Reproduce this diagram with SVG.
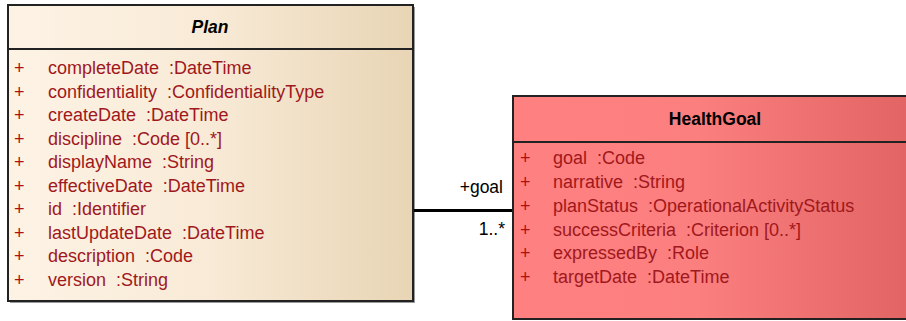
<svg xmlns="http://www.w3.org/2000/svg" width="906" height="321" viewBox="0 0 906 321">
<defs>
<linearGradient id="gPlan" x1="0" y1="0" x2="1" y2="0">
<stop offset="0" stop-color="#fdf3e5"/>
<stop offset="0.5" stop-color="#f8ead6"/>
<stop offset="1" stop-color="#e8d5b5"/>
</linearGradient>
<linearGradient id="gGoal" x1="0" y1="0" x2="1" y2="0">
<stop offset="0" stop-color="#ff8080"/>
<stop offset="0.45" stop-color="#fc7f7f"/>
<stop offset="1" stop-color="#e06262"/>
</linearGradient>
<style>
text{font-family:"Liberation Sans",Arial,sans-serif;font-size:18px;white-space:pre}
.t{font-weight:bold;fill:#000;text-anchor:middle;font-size:17.5px}
.a{fill:#a0181c}
.p{fill:#b01010}
.l{fill:#000;text-anchor:end;font-size:17.5px}
.box{stroke:#222;stroke-width:2}
</style>
</defs>
<g id="Plan">
<rect x="10" y="7" width="405" height="296" fill="#555" opacity="0.6"/>
<rect class="box" x="8" y="5" width="405" height="296" fill="url(#gPlan)"/>
<line x1="8" y1="49" x2="413" y2="49" stroke="#222" stroke-width="2"/>
<text class="t" x="210" y="33" font-style="italic">Plan</text>
<g class="p">
<text x="14" y="74">+</text><text x="14" y="97.5">+</text><text x="14" y="121">+</text><text x="14" y="144.5">+</text><text x="14" y="168">+</text><text x="14" y="191.5">+</text><text x="14" y="215">+</text><text x="14" y="238.5">+</text><text x="14" y="262">+</text><text x="14" y="285.5">+</text>
</g>
<g class="a">
<text x="48" y="74">completeDate  :DateTime</text>
<text x="48" y="97.5">confidentiality  :ConfidentialityType</text>
<text x="48" y="121">createDate  :DateTime</text>
<text x="48" y="144.5">discipline  :Code [0..*]</text>
<text x="48" y="168">displayName  :String</text>
<text x="48" y="191.5">effectiveDate  :DateTime</text>
<text x="48" y="215">id  :Identifier</text>
<text x="48" y="238.5">lastUpdateDate  :DateTime</text>
<text x="48" y="262">description  :Code</text>
<text x="48" y="285.5">version  :String</text>
</g>
</g>
<g id="HealthGoal">
<rect class="box" x="513" y="96" width="410" height="223" fill="url(#gGoal)"/>
<line x1="513" y1="142" x2="906" y2="142" stroke="#222" stroke-width="2"/>
<text class="t" x="715" y="125">HealthGoal</text>
<g class="p">
<text x="520" y="164">+</text><text x="520" y="188">+</text><text x="520" y="212">+</text><text x="520" y="235.5">+</text><text x="520" y="259">+</text><text x="520" y="282.5">+</text>
</g>
<g class="a">
<text x="553" y="164">goal  :Code</text>
<text x="553" y="188">narrative  :String</text>
<text x="553" y="212">planStatus  :OperationalActivityStatus</text>
<text x="553" y="235.5">successCriteria  :Criterion [0..*]</text>
<text x="553" y="259">expressedBy  :Role</text>
<text x="553" y="282.5">targetDate  :DateTime</text>
</g>
</g>
<g id="connectors">
<line x1="414" y1="210.5" x2="512" y2="210.5" stroke="#000" stroke-width="3"/>
<text class="l" x="503" y="193">+goal</text>
<text class="l" x="505" y="235">1..*</text>
</g>
</svg>
